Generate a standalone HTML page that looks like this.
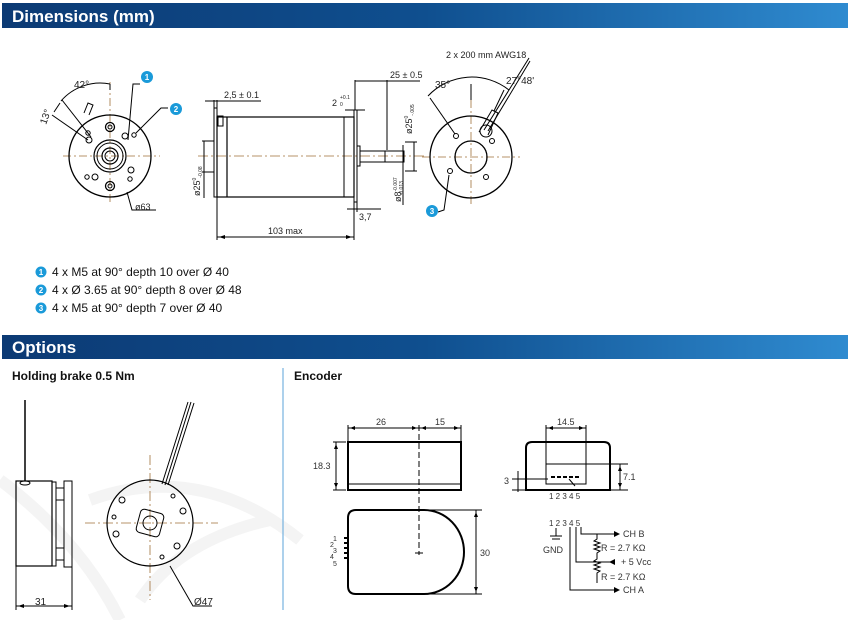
<!DOCTYPE html>
<html><head><meta charset="utf-8"><style>
body{margin:0;background:#fff;width:850px;height:620px;overflow:hidden}
svg{display:block;font-family:"Liberation Sans",sans-serif}
</style></head><body>
<svg width="850" height="620" viewBox="0 0 850 620" xmlns="http://www.w3.org/2000/svg">
<defs>
<linearGradient id="hb" x1="0" x2="1" y1="0" y2="0">
<stop offset="0" stop-color="#0c3a74"/><stop offset="0.5" stop-color="#0f4f8f"/><stop offset="1" stop-color="#2f8bd0"/>
</linearGradient>
</defs>
<!-- watermark -->
<g fill="none" stroke="#f4f4f4" stroke-width="12">
<path d="M0 480 Q80 540 120 620"/>
<path d="M90 500 Q200 460 300 540"/>
<path d="M140 600 Q180 540 270 520"/>
</g>
<!-- headers -->
<rect x="2" y="3" width="846" height="25" fill="url(#hb)"/>
<text x="12" y="22" fill="#fff" font-size="17" font-weight="bold">Dimensions (mm)</text>
<rect x="2" y="335" width="846" height="24" fill="url(#hb)"/>
<text x="12" y="353" fill="#fff" font-size="17" font-weight="bold">Options</text>

<g fill="none" stroke="#000" stroke-width="1">
<!-- left end view -->
<line x1="63" y1="156" x2="160" y2="156" stroke="#a0703a" stroke-dasharray="8,3,2,3" stroke-width="0.8"/>
<line x1="110" y1="82" x2="110" y2="205" stroke="#a0703a" stroke-dasharray="8,3,2,3" stroke-width="0.8"/>
<circle cx="110" cy="156" r="41" stroke-width="1.3"/>
<circle cx="110" cy="156" r="16" stroke-width="1.2"/>
<circle cx="110" cy="156" r="13"/>
<circle cx="110" cy="156" r="8" stroke-width="1.2"/>
<circle cx="110" cy="156" r="5"/>
<circle cx="110" cy="127" r="4.5" stroke-width="1.3"/><circle cx="110" cy="127" r="2"/>
<circle cx="110" cy="186" r="4.5" stroke-width="1.3"/><circle cx="110" cy="186" r="2"/>
<circle cx="125" cy="136" r="3"/><circle cx="134" cy="135" r="2.2"/>
<circle cx="89" cy="140" r="3"/><circle cx="88" cy="133" r="2.2"/>
<circle cx="95" cy="177" r="3"/><circle cx="87" cy="177" r="2.2"/>
<circle cx="131" cy="170" r="3"/><circle cx="130" cy="179" r="2.2"/>
<path d="M84 113 L88 103 L93 105 L89 115"/>
<path d="M61 101 A52 52 0 0 1 110 84"/>
<line x1="110" y1="84" x2="110" y2="90"/>
<line x1="62" y1="100" x2="91" y2="137"/>
<line x1="52" y1="115" x2="88" y2="140"/>
<path d="M54 112 L60 103" />
<path d="M128 140 L133 84 L140 84"/>
<path d="M136 133 L161 108 L168 108"/>
<path d="M127 192 L132 210 L156 210"/>
<!-- side view -->
<line x1="198" y1="156" x2="425" y2="156" stroke="#a0703a" stroke-dasharray="10,3,2,3" stroke-width="0.8"/>
<rect x="214" y="108" width="3" height="89"/>
<rect x="217" y="117" width="137" height="80" stroke-width="1.2"/>
<line x1="227" y1="117" x2="227" y2="197" stroke-width="1.2"/>
<line x1="344" y1="117" x2="344" y2="197"/>
<rect x="218" y="116" width="5" height="10"/>
<rect x="354" y="110" width="3" height="92"/>
<rect x="357" y="146" width="3" height="20"/>
<rect x="360" y="151" width="44" height="11"/>
<line x1="385" y1="151" x2="385" y2="162"/>
<line x1="217" y1="197" x2="217" y2="240"/>
<line x1="354" y1="202" x2="354" y2="240"/>
<line x1="217" y1="237" x2="354" y2="237"/>
<line x1="214" y1="100" x2="214" y2="108"/><line x1="217" y1="100" x2="217" y2="108"/>
<line x1="205" y1="101" x2="261" y2="101"/>
<line x1="355" y1="80" x2="355" y2="110"/>
<line x1="387" y1="80" x2="387" y2="150"/>
<line x1="355" y1="81" x2="420" y2="81"/>
<line x1="345" y1="110" x2="365" y2="110"/>
<line x1="347" y1="209" x2="381" y2="209"/>
<line x1="357" y1="202" x2="357" y2="212"/>
<line x1="202" y1="141" x2="214" y2="141"/><line x1="202" y1="172" x2="214" y2="172"/>
<line x1="204" y1="141" x2="204" y2="198"/>
<line x1="403" y1="145" x2="403" y2="205"/>
<line x1="414" y1="142" x2="414" y2="171"/>
<line x1="405" y1="142" x2="417" y2="142"/><line x1="405" y1="171" x2="417" y2="171"/>
<!-- right end view -->
<line x1="422" y1="157" x2="520" y2="157" stroke="#a0703a" stroke-dasharray="8,3,2,3" stroke-width="0.8"/>
<line x1="471" y1="84" x2="471" y2="207" stroke="#a0703a" stroke-dasharray="8,3,2,3" stroke-width="0.8"/>
<circle cx="471" cy="157" r="41" stroke-width="1.3"/>
<circle cx="471" cy="157" r="16" stroke-width="1.3"/>
<circle cx="456" cy="136" r="2.5"/><circle cx="492" cy="141" r="2.5"/>
<circle cx="450" cy="171" r="2.5"/><circle cx="486" cy="177" r="2.5"/>
<circle cx="486" cy="131" r="6"/>
<path d="M479 132 L492 110 L498 113 L488 135"/>
<path d="M484 130 L529 58 M488 131 L530 61"/>
<path d="M428 96 A60 60 0 0 1 509 90"/>
<line x1="471" y1="84" x2="471" y2="100"/>
<line x1="430" y1="98" x2="455" y2="134"/>
<line x1="504" y1="90" x2="494" y2="111"/>
<path d="M449 175 L444 210 L438 212"/>
<!-- brake -->
<line x1="25" y1="400" x2="25" y2="481" stroke-width="1.5"/>
<rect x="16" y="481" width="36" height="85" stroke-width="1.2"/>
<ellipse cx="25" cy="483" rx="5" ry="2"/>
<rect x="52" y="482" width="4" height="84"/>
<rect x="56" y="488" width="8" height="12"/>
<rect x="56" y="548" width="8" height="12"/>
<rect x="64" y="481" width="8" height="86"/>
<line x1="16" y1="566" x2="16" y2="610"/><line x1="72" y1="567" x2="72" y2="610"/>
<line x1="16" y1="606" x2="72" y2="606"/>
<line x1="85" y1="523" x2="218" y2="523" stroke="#a0703a" stroke-dasharray="10,3,2,3" stroke-width="0.8"/>
<line x1="150" y1="455" x2="150" y2="600" stroke="#a0703a" stroke-dasharray="10,3,2,3" stroke-width="0.8"/>
<circle cx="150" cy="523" r="43" stroke-width="1.2"/>
<rect x="138" y="511" width="24" height="24" rx="4" transform="rotate(15 150 523)"/>
<circle cx="150" cy="523" r="7"/>
<circle cx="122" cy="500" r="3"/><circle cx="183" cy="511" r="3"/><circle cx="116" cy="534" r="3"/><circle cx="177" cy="546" r="3"/>
<circle cx="173" cy="496" r="2"/><circle cx="114" cy="517" r="2"/><circle cx="162" cy="557" r="2"/>
<path d="M162 484 L188 402 M165 485 L191 402 M168 485 L194 403"/>
<path d="M170 566 L193 606 L212 606"/>
</g>
<line x1="283" y1="368" x2="283" y2="610" stroke="#5ba3da" stroke-width="1"/>
<!-- encoder -->
<g fill="none" stroke="#000">
<rect x="348" y="442" width="113" height="48" stroke-width="2"/>
<line x1="348" y1="484" x2="461" y2="484"/>
<line x1="419" y1="425" x2="419" y2="555" stroke-dasharray="6,3"/>
<line x1="348" y1="425" x2="348" y2="442"/><line x1="461" y1="425" x2="461" y2="442"/>
<line x1="348" y1="428" x2="461" y2="428"/>
<line x1="333" y1="442" x2="346" y2="442"/><line x1="333" y1="490" x2="346" y2="490"/>
<line x1="336" y1="442" x2="336" y2="490"/>
<path d="M356 510 L424 510 A40 42 0 0 1 424 594 L356 594 Q348 594 348 586 L348 518 Q348 510 356 510 Z" stroke-width="2"/>
<line x1="415" y1="553" x2="423" y2="553"/>
<line x1="424" y1="510" x2="482" y2="510"/><line x1="424" y1="594" x2="482" y2="594"/>
<line x1="476" y1="510" x2="476" y2="594"/>
<path d="M348 538h-4M348 543h-4M348 548h-4M348 553h-4M348 558h-4" stroke-width="2"/>
<path d="M526 490 L526 448 Q526 442 532 442 L604 442 Q610 442 610 448 L610 490 Z" stroke-width="2"/>
<rect x="546" y="464" width="40" height="20"/>
<line x1="546" y1="425" x2="546" y2="464"/><line x1="586" y1="425" x2="586" y2="464"/>
<line x1="546" y1="428" x2="586" y2="428"/>
<line x1="586" y1="464" x2="628" y2="464"/><line x1="610" y1="490" x2="628" y2="490"/>
<line x1="620" y1="464" x2="620" y2="490"/>
<line x1="512" y1="479" x2="548" y2="479"/><line x1="512" y1="490" x2="526" y2="490"/>
<line x1="518" y1="471" x2="518" y2="492"/>
<path d="M551 477h4M557 477h4M563 477h4M569 477h4M575 477h4" stroke-width="2"/>
<line x1="569" y1="479" x2="575" y2="486"/>
<path d="M556 528 v8 M550 536 h12 M552 539 h8"/>
<path d="M581 527 v7 h34 M576 527 v35 h39 M570 527 v63 h45" stroke-width="1"/>
<path d="M597 534 v5 l-3 2 l6 2 l-6 2 l6 2 l-6 2 l6 2 l-3 2 v6 l-3 2 l6 2 l-6 2 l6 2 l-6 2 l6 2 l-3 2 v10 M597 562 v0"/>
</g>
<g fill="#000">
<path d="M620 534 l-6 -3 v6 z M609 562 l6 -3 v6 z M620 590 l-6 -3 v6 z"/>
<path d="M350 428 l5 -2 v4z M417 428 l-5 -2 v4z M421 428 l5 -2 v4z M459 428 l-5 -2 v4z M336 444 l-2 5 h4z M336 488 l-2 -5 h4z M476 512 l-2 5 h4z M476 592 l-2 -5 h4z M548 428 l5 -2 v4z M584 428 l-5 -2 v4z M620 466 l-2 5 h4z M620 488 l-2 -5 h4z"/>
<path d="M219 237 l6 -2 v4z M352 237 l-6 -2 v4z M18 606 l6 -2 v4z M70 606 l-6 -2 v4z"/>
</g>
<g font-size="9" fill="#222">
<text x="74" y="88" font-size="10">42°</text>
<text x="46" y="125" font-size="10" transform="rotate(-70 46 125)">13°</text>
<text x="135" y="210">ø63</text>
<text x="224" y="98">2,5 ± 0.1</text>
<text x="332" y="106">2</text><text x="340" y="99" font-size="5">+0.1</text><text x="340" y="106" font-size="5">0</text>
<text x="390" y="78">25 ± 0.5</text>
<text x="412" y="134" transform="rotate(-90 412 134)">ø25<tspan font-size="5" dy="-4">0</tspan><tspan font-size="5" dy="6">-.005</tspan></text>
<text x="200" y="196" transform="rotate(-90 200 196)">ø25<tspan font-size="5" dy="-4">0</tspan><tspan font-size="5" dy="6">-0.08</tspan></text>
<text x="401" y="202" transform="rotate(-90 401 202)">ø8<tspan font-size="5" dy="-4">-0.007</tspan><tspan font-size="5" dx="-18" dy="6">-0.013</tspan></text>
<text x="359" y="220">3,7</text>
<text x="268" y="234">103 max</text>
<text x="446" y="58">2 x 200 mm AWG18</text>
<text x="435" y="88" font-size="10">35°</text>
<text x="506" y="84" font-size="10">27°48'</text>
<text x="35" y="605" font-size="10">31</text>
<text x="194" y="605" font-size="10">Ø47</text>
</g>
<g font-size="12" fill="#111">
<text x="52" y="276">4 x M5 at  90° depth 10 over Ø 40</text>
<text x="52" y="294">4 x Ø 3.65 at 90° depth 8 over Ø 48</text>
<text x="52" y="312">4 x M5 at 90° depth 7 over Ø 40</text>
</g>
<g fill="#1a9ad9">
<circle cx="41" cy="272" r="5.5"/><circle cx="41" cy="290" r="5.5"/><circle cx="41" cy="308" r="5.5"/>
<circle cx="147" cy="77" r="6"/><circle cx="176" cy="109" r="6"/><circle cx="432" cy="211" r="6"/>
</g>
<g fill="#fff" font-size="8" font-weight="bold" text-anchor="middle">
<text x="41" y="275">1</text><text x="41" y="293">2</text><text x="41" y="311">3</text>
<text x="147" y="80">1</text><text x="176" y="112">2</text><text x="432" y="214">3</text>
</g>
<g font-size="12" font-weight="bold" fill="#111">
<text x="12" y="380">Holding brake 0.5 Nm</text>
<text x="294" y="380">Encoder</text>
</g>
<g font-size="9" fill="#333">
<text x="376" y="425">26</text><text x="435" y="425">15</text>
<text x="313" y="469">18.3</text>
<text x="480" y="556">30</text>
<text x="557" y="425">14.5</text>
<text x="623" y="480">7.1</text>
<text x="504" y="484">3</text>
<text x="549" y="499" font-size="8">1 2 3 4 5</text>
<text x="549" y="526" font-size="8">1 2 3 4 5</text>
<text x="543" y="553">GND</text>
<text x="623" y="537">CH B</text>
<text x="601" y="551">R = 2.7 KΩ</text>
<text x="621" y="565">+ 5 Vcc</text>
<text x="601" y="580">R = 2.7 KΩ</text>
<text x="623" y="593">CH A</text>
<text x="333" y="541" font-size="7">1</text><text x="330" y="547" font-size="7">2</text><text x="333" y="553" font-size="7">3</text><text x="330" y="559" font-size="7">4</text><text x="333" y="566" font-size="7">5</text>
</g>
</svg>
</body></html>
